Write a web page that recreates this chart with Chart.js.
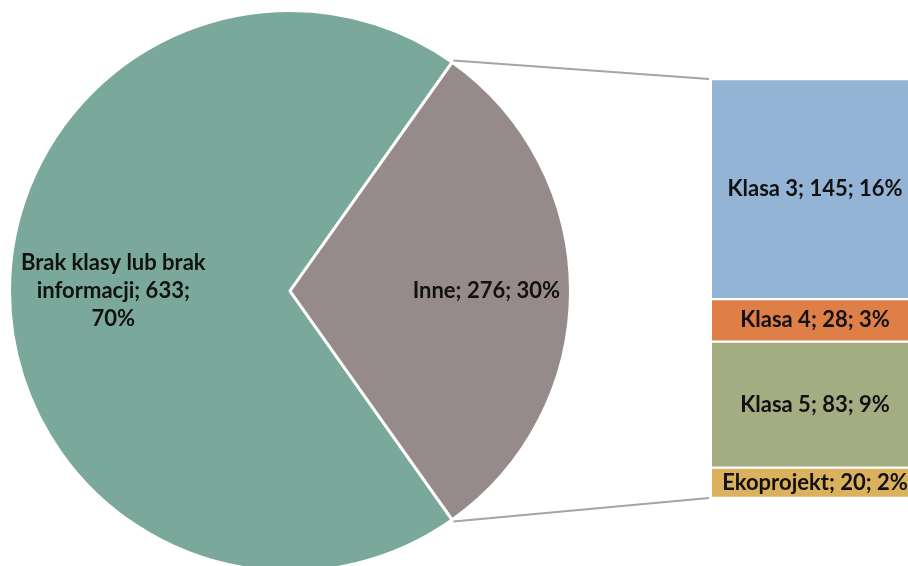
<!DOCTYPE html>
<html>
<head>
<meta charset="utf-8">
<script src="https://cdn.jsdelivr.net/npm/chart.js@4"></script>
<style>
  body { margin: 0; background: #fff; }
  #wrap { position: relative; width: 908px; height: 566px; overflow: hidden; }
  #wrap canvas { position: absolute; left: 0; top: 0; }
  #barBox { position: absolute; left: 0; top: 0; width: 918px; height: 566px; pointer-events: none; }
  #pieBox { position: absolute; left: 0; top: 0; width: 908px; height: 582px; }
</style>
</head>
<body>
<div id="wrap">
  <div id="pieBox"><canvas id="pie"></canvas></div>
  <div id="barBox"><canvas id="bar"></canvas></div>
</div>
<script>
// main split: no class info vs. everything else
const pieLabels = ['Brak klasy lub brak informacji', 'Inne'];
const pieValues = [633, 276];
const pieColors = ['#7aa89b', '#968b8a'];

// breakdown of "Inne"
const barLabels = ['Klasa 3', 'Klasa 4', 'Klasa 5', 'Ekoprojekt'];
const barValues = [145, 28, 83, 20];
const barColors = ['#94b4d5', '#df7f48', '#a3ad81', '#dbb15e'];

const total = pieValues.reduce((a, b) => a + b, 0);
const pct = v => Math.round(v / total * 100) + '%';
const FONT = 'bold 22px Lato, "Open Sans", sans-serif';
const labelRadius = [0.63, 0.70];

// put the "Inne" slice centred on the right-hand side
const otherSpan = 360 * pieValues[1] / total;
const mainSpan = 360 * pieValues[0] / total;
const pieRotation = 90 - otherSpan / 2 - mainSpan;

function wrapText(ctx, text, maxWidth) {
  const words = text.split(' ');
  const lines = [];
  let line = '';
  words.forEach(w => {
    const test = line ? line + ' ' + w : w;
    if (line && ctx.measureText(test).width > maxWidth) {
      lines.push(line);
      line = w;
    } else {
      line = test;
    }
  });
  if (line) lines.push(line);
  return lines;
}

function drawLabel(ctx, text, x, y, maxWidth) {
  ctx.save();
  ctx.font = FONT;
  ctx.fillStyle = '#111';
  ctx.textAlign = 'center';
  ctx.textBaseline = 'middle';
  const lines = maxWidth ? wrapText(ctx, text, maxWidth) : [text];
  const lh = 28;
  const y0 = y - (lines.length - 1) * lh / 2;
  lines.forEach((l, i) => ctx.fillText(l, x, y0 + i * lh));
  ctx.restore();
}

const pieLabelPlugin = {
  id: 'pieLabels',
  afterDatasetsDraw(chart) {
    const ctx = chart.ctx;
    chart.getDatasetMeta(0).data.forEach((arc, i) => {
      const mid = (arc.startAngle + arc.endAngle) / 2;
      const r = arc.outerRadius * labelRadius[i];
      const text = pieLabels[i] + '; ' + pieValues[i] + '; ' + pct(pieValues[i]);
      drawLabel(ctx, text, arc.x + Math.cos(mid) * r, arc.y + Math.sin(mid) * r, 192);
    });
  }
};

const pieChart = new Chart(document.getElementById('pie'), {
  type: 'pie',
  data: {
    labels: pieLabels,
    datasets: [{
      data: pieValues,
      backgroundColor: pieColors,
      borderColor: '#fff',
      borderWidth: 3
    }]
  },
  options: {
    responsive: true,
    maintainAspectRatio: false,
    animation: false,
    rotation: pieRotation,
    layout: { padding: { left: 8, right: 336, top: 9, bottom: 9 } },
    plugins: { legend: { display: false }, tooltip: { enabled: false } }
  },
  plugins: [pieLabelPlugin]
});

const barLabelPlugin = {
  id: 'barLabels',
  afterDraw(chart) {
    const ctx = chart.ctx;
    // connector lines from the "Inne" slice to the stacked column
    const arc = pieChart.getDatasetMeta(0).data[1];
    const first = chart.getDatasetMeta(0).data[0];
    const last = chart.getDatasetMeta(barValues.length - 1).data[0];
    const left = first.x - first.width / 2 - 3;
    const r = arc.outerRadius + 2;
    ctx.save();
    ctx.strokeStyle = '#a5a5a5';
    ctx.lineWidth = 2;
    ctx.beginPath();
    ctx.moveTo(arc.x + Math.cos(arc.startAngle) * r, arc.y + Math.sin(arc.startAngle) * r);
    ctx.lineTo(left, Math.min(first.y, first.base));
    ctx.moveTo(arc.x + Math.cos(arc.endAngle) * r, arc.y + Math.sin(arc.endAngle) * r);
    ctx.lineTo(left, Math.max(last.y, last.base));
    ctx.stroke();
    ctx.restore();

    barValues.forEach((v, i) => {
      const bar = chart.getDatasetMeta(i).data[0];
      drawLabel(ctx, barLabels[i] + '; ' + v + '; ' + pct(v), bar.x, (bar.y + bar.base) / 2);
    });
  }
};

new Chart(document.getElementById('bar'), {
  type: 'bar',
  data: {
    labels: [''],
    datasets: barValues.map((v, i) => ({
      label: barLabels[i],
      data: [v],
      backgroundColor: barColors[i],
      borderColor: '#fff',
      borderWidth: { top: 1.5, bottom: 1.5, left: 0, right: 0 },
      borderSkipped: false,
      barPercentage: 1,
      categoryPercentage: 1
    }))
  },
  options: {
    responsive: true,
    maintainAspectRatio: false,
    animation: false,
    layout: { padding: { left: 712, right: 0, top: 79, bottom: 68 } },
    scales: {
      x: { display: false, stacked: true },
      y: { display: false, stacked: true, reverse: true, min: 0, max: pieValues[1] }
    },
    plugins: { legend: { display: false }, tooltip: { enabled: false } }
  },
  plugins: [barLabelPlugin]
});
</script>
</body>
</html>
